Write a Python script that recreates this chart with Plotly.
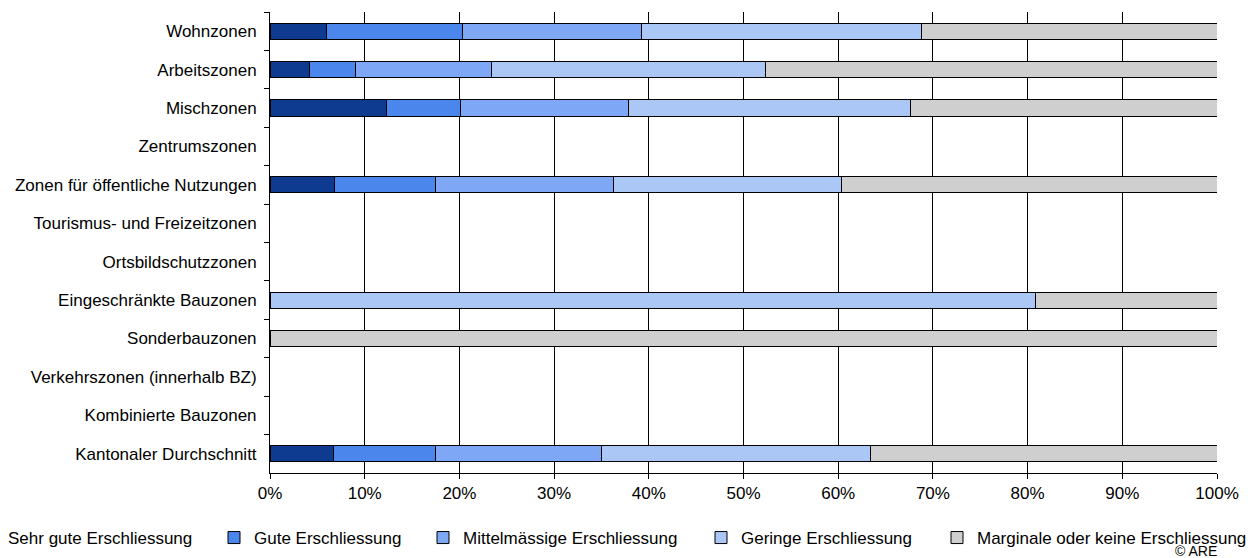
import plotly.graph_objects as go

categories = [
    "Wohnzonen",
    "Arbeitszonen",
    "Mischzonen",
    "Zentrumszonen",
    "Zonen für öffentliche Nutzungen",
    "Tourismus- und Freizeitzonen",
    "Ortsbildschutzzonen",
    "Eingeschränkte Bauzonen",
    "Sonderbauzonen",
    "Verkehrszonen (innerhalb BZ)",
    "Kombinierte Bauzonen",
    "Kantonaler Durchschnitt",
]

series_names = [
    "Sehr gute Erschliessung",
    "Gute Erschliessung",
    "Mittelmässige Erschliessung",
    "Geringe Erschliessung",
    "Marginale oder keine Erschliessung",
]

# shares in percent (None = no data)
sehr_gute = [6.0, 4.2, 12.3, None, 6.8, None, None, None, None, None, None, 6.7]
gute = [14.3, 4.85, 7.8, None, 10.7, None, None, None, None, None, None, 10.8]
mittel = [18.9, 14.35, 17.8, None, 18.8, None, None, None, None, None, None, 17.5]
geringe = [29.6, 28.9, 29.7, None, 24.0, None, None, 80.8, None, None, None, 28.4]
marginale = [31.2, 47.7, 32.4, None, 39.7, None, None, 19.2, 100.0, None, None, 36.6]

x_tickvals = [0, 10, 20, 30, 40, 50, 60, 70, 80, 90, 100]
x_ticktext = ["0%", "10%", "20%", "30%", "40%", "50%", "60%", "70%", "80%", "90%", "100%"]

colors = ["#0E3B8F", "#4A86EC", "#7EA8F5", "#AAC7F5", "#CFCFCF"]
values = [sehr_gute, gute, mittel, geringe, marginale]

FONT = "Liberation Sans, Arial, sans-serif"

W, H = 1247, 550
L, T, PW, PH = 262, 4, 947, 461

# left edge (figure px) of each legend entry
legend_left_px = [-40, 206, 415, 693, 929]
legend_ids = ["legend", "legend2", "legend3", "legend4", "legend5"]

fig = go.Figure()
for name, vals, col, lid in zip(series_names, values, colors, legend_ids):
    fig.add_trace(go.Bar(
        y=categories, x=vals, name=name, orientation="h",
        marker=dict(color=col, line=dict(color="#000000", width=1)),
        width=0.42, legend=lid,
    ))

legend_layouts = {}
for lid, lx in zip(legend_ids, legend_left_px):
    legend_layouts[lid] = dict(
        orientation="h",
        x=(lx - L) / PW, xanchor="left", xref="paper",
        y=(T + PH - 530) / PH, yanchor="middle",
        font=dict(size=17),
        bgcolor="rgba(0,0,0,0)",
    )

fig.update_layout(
    width=W, height=H,
    barmode="stack",
    plot_bgcolor="white", paper_bgcolor="white",
    margin=dict(l=L, r=W - L - PW, t=T, b=H - T - PH, autoexpand=False),
    font=dict(family=FONT, size=17, color="black"),
    showlegend=True,
    xaxis=dict(
        range=[0, 100],
        tickvals=x_tickvals, ticktext=x_ticktext,
        showgrid=True, gridcolor="black", gridwidth=1,
        showline=True, linecolor="black", linewidth=1,
        ticks="outside", ticklen=5, tickcolor="black",
        zeroline=False,
    ),
    yaxis=dict(
        categoryorder="array", categoryarray=categories,
        autorange="reversed",
        showgrid=False,
        showline=True, linecolor="black", linewidth=1,
        ticks="outside", ticklen=5, tickcolor="black",
        tickson="boundaries",
        ticklabelstandoff=9,
    ),
    annotations=[dict(
        text="© ARE", xref="paper", yref="paper",
        x=(1211 - L) / PW, xanchor="right",
        y=(T + PH - 543) / PH, yanchor="middle",
        showarrow=False, font=dict(size=14),
    )],
    **legend_layouts,
)

fig.write_html("out.html")
